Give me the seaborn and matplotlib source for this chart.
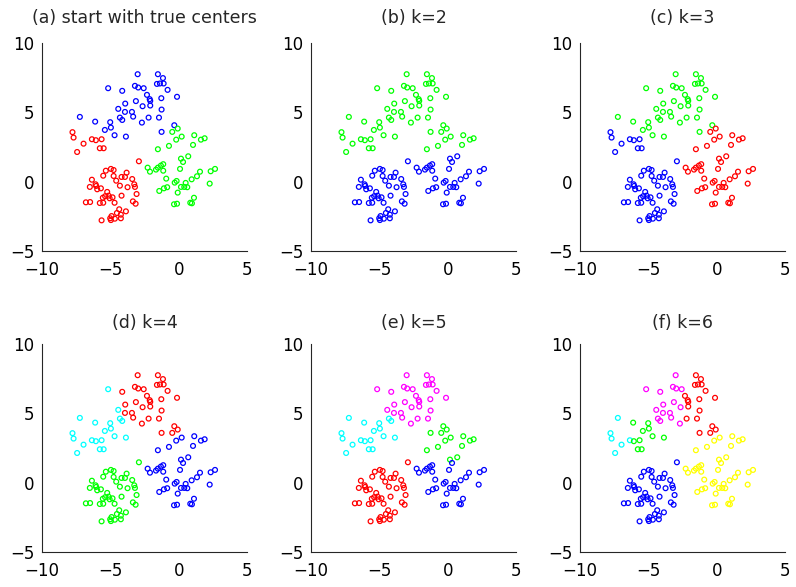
import numpy as np
import pandas as pd
import matplotlib
matplotlib.use("Agg")
import matplotlib.pyplot as plt
import seaborn as sns

# ---- point coordinates ----
xs = [-3.00, -5.16, -4.13, -3.20, -2.96, -2.56, -2.32, -2.12, -2.08, -3.13,
      -3.91, -2.64, -4.42, -3.93, -3.42, -2.08, -4.30, -4.13, -3.33, -2.20,
      -7.23, -6.11, -5.01, -2.69, -4.96, -5.40, -4.69, -3.86, -1.52, -1.15,
      -1.59, -1.37, -1.10, -0.81, -1.27, -0.12, -1.25, -1.44, -0.32, -1.25,
      -7.77, -7.69, -6.96, -6.35, -6.06, -5.64, -5.77, -5.49, -7.43, -2.91,
      -4.96, -4.76, -5.33, -5.52, -3.81, -4.76, -4.18, -3.93, -6.35, -4.57,
      -3.40, -6.08, -6.04, -6.50, -4.30, -3.25, -3.20, -3.74, -5.69, -5.96,
      -5.23, -3.08, -5.38, -5.13, -5.55, -4.84, -4.18, -5.05, -6.79, -6.48,
      -5.77, -5.52, -4.69, -3.35, -3.15, -4.35, -3.86, -4.52, -4.23, -4.91,
      -4.67, -5.01, -4.96, -4.23, -5.64,
      -0.07, -0.47, 0.22, -0.18, 1.14, 1.63, 1.90, -0.71, 1.05, -1.52,
      0.17, 0.70, 0.32, -2.27, -2.10, -1.66, -1.52, -1.30, -1.13, -1.13,
      0.10, 1.56, 1.34, 2.34, 2.66, -0.91, 0.95, -0.29, -0.15, 0.51,
      2.27, 0.17, 0.41, 0.63, -1.42, -1.08, -0.84, -0.07, 1.12, -0.34,
      -0.12, 0.85, 0.97]
ys = [7.75, 6.74, 6.55, 6.91, 6.79, 6.74, 6.26, 5.95, 5.83, 5.81,
      5.63, 5.44, 5.25, 5.03, 5.03, 5.49, 4.62, 4.45, 4.69, 4.62,
      4.67, 4.33, 4.29, 4.26, 3.90, 3.73, 3.35, 3.25, 7.75, 7.47,
      7.05, 7.08, 7.08, 6.62, 6.02, 6.12, 5.20, 4.62, 4.07, 3.59,
      3.57, 3.18, 2.74, 3.06, 2.99, 3.06, 2.41, 2.41, 2.14, 1.47,
      0.92, 0.84, 0.79, 0.43, 0.65, 0.41, 0.34, 0.34, 0.14, 0.07,
      0.19, -0.19, -0.31, -0.38, -0.29, -0.19, -0.38, -0.40, -0.48, -0.55,
      -0.74, -0.89, -1.05, -1.01, -1.16, -1.13, -1.01, -1.20, -1.49, -1.47,
      -1.54, -1.52, -1.52, -1.42, -1.59, -1.99, -2.14, -2.26, -2.38, -2.48,
      -2.67, -2.64, -2.77, -2.64, -2.79,
      3.83, 3.59, 3.25, 3.03, 3.35, 3.03, 3.13, 2.58, 2.65, 2.34,
      1.66, 1.83, 1.42, 1.01, 0.72, 0.87, 1.01, 1.16, 1.26, 0.79,
      0.92, 0.72, 0.39, 0.75, 0.92, 0.22, 0.17, -0.07, 0.05, -0.09,
      -0.14, -0.38, -0.38, -0.40, -0.67, -0.48, -0.40, -0.79, -1.16, -1.63,
      -1.59, -1.52, -1.56]

titles = ["(a) start with true centers", "(b) k=2", "(c) k=3",
          "(d) k=4", "(e) k=5", "(f) k=6"]

# cluster centres and their colours
centers = [
    [(-5.2, -0.3), (-2.6, 5.8), (0.2, 0.9)],
    [(-3.0, 5.0), (-3.0, -0.3)],
    [(-5.3, 0.3), (-2.8, 5.5), (0.1, 0.9)],
    [(-5.72, 3.71), (-2.05, 5.77), (-4.75, -0.75), (0.25, 0.55)],
    [(-5.83, 3.45), (-2.5, 6.0), (0.16, 3.0), (-4.8, -0.8), (0.2, -0.1)],
    [(-7.24, 3.23), (-5.30, 3.37), (-3.48, 5.76), (-1.23, 5.67),
     (-4.8, -0.8), (0.25, 0.55)],
]
colors = [
    ["#ff0000", "#0000ff", "#00ff00"],
    ["#00ff00", "#0000ff"],
    ["#0000ff", "#00ff00", "#ff0000"],
    ["#00ffff", "#ff0000", "#00ff00", "#0000ff"],
    ["#00ffff", "#ff00ff", "#00ff00", "#ff0000", "#0000ff"],
    ["#00ffff", "#00ff00", "#ff00ff", "#ff0000", "#0000ff", "#ffff00"],
]

xticks = [-10, -5, 0, 5]
yticks = [-5, 0, 5, 10]


def kmeans(X, init, iters=100):
    C = np.array(init, dtype=float)
    lab = None
    for _ in range(iters):
        d = ((X[:, None, :] - C[None, :, :]) ** 2).sum(-1)
        lab = d.argmin(1)
        newC = np.array([X[lab == k].mean(0) if np.any(lab == k) else C[k]
                         for k in range(len(C))])
        if np.allclose(newC, C):
            break
        C = newC
    return lab


sns.set_style("white")
plt.rcParams["font.family"] = ["DejaVu Sans"]

X = np.column_stack([xs, ys])
fig = plt.figure(figsize=(7.96, 5.87), dpi=100)
W, H = 796.0, 587.0
lefts = [42, 311, 580]
tops = [43, 344]
title_gap = [25, 21.5]   # px from axes top to title centre
aw, ah = 205, 208

for i in range(6):
    r, c = divmod(i, 3)
    ax = fig.add_axes([lefts[c] / W, 1 - (tops[r] + ah) / H, aw / W, ah / H])
    lab = kmeans(X, centers[i])
    df = pd.DataFrame({"x": xs, "y": ys, "cl": lab})
    sns.scatterplot(data=df, x="x", y="y", hue="cl",
                    palette={k: colors[i][k] for k in range(len(colors[i]))},
                    marker="o", s=12, linewidth=0.9,
                    legend=False, ax=ax)
    coll = ax.collections[0]
    fc = coll.get_facecolors()
    coll.set_edgecolors(fc)
    coll.set_facecolors("none")
    ax.set_xlim(-10, 5)
    ax.set_ylim(-5, 10)
    ax.set_xticks(xticks)
    ax.set_yticks(yticks)
    ax.set_xlabel("")
    ax.set_ylabel("")
    ax.tick_params(direction="in", length=3, width=0.6, labelsize=12,
                   colors="#262626", labelcolor="black")
    ax.tick_params(axis="x", pad=7)
    ax.tick_params(axis="y", pad=5.5)
    for s in ["top", "right"]:
        ax.spines[s].set_visible(False)
    for s in ["left", "bottom"]:
        ax.spines[s].set_color("#262626")
        ax.spines[s].set_linewidth(0.8)
    ax.set_title(titles[i], fontsize=12.5, pad=0, va="center",
                 y=1 + title_gap[r] / ah)

fig.savefig("out.png", dpi=100, facecolor="white")
